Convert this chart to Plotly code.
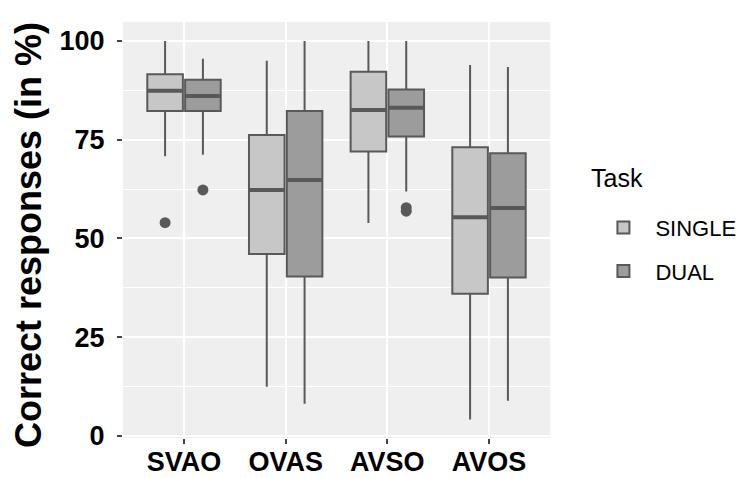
import plotly.graph_objects as go

categories = ["SVAO", "OVAS", "AVSO", "AVOS"]
groups = ["SINGLE", "DUAL"]

single_upper = [100.0, 95.0, 100.0, 93.9]
single_q3 = [91.6, 76.2, 92.2, 73.1]
single_median = [87.4, 62.3, 82.5, 55.4]
single_q1 = [82.3, 46.1, 72.0, 36.0]
single_lower = [70.8, 12.5, 53.9, 4.2]

dual_upper = [95.5, 100.0, 100.0, 93.4]
dual_q3 = [90.2, 82.3, 87.7, 71.6]
dual_median = [86.1, 64.8, 83.1, 57.7]
dual_q1 = [82.3, 40.4, 75.8, 40.1]
dual_lower = [71.2, 8.2, 61.9, 8.9]

# outliers: (category index, value)
single_outliers = [(0, 54.0)]
dual_outliers = [(0, 62.3), (2, 57.8), (2, 56.9)]

y_ticks = [0, 25, 50, 75, 100]

fills = {"SINGLE": "#C7C7C7", "DUAL": "#9C9C9C"}
edge = "#595959"
dodge = 0.186
bw = 0.35
FONT = "Liberation Sans, Arial, sans-serif"

stats = {
    "SINGLE": (single_q1, single_median, single_q3, single_lower, single_upper, single_outliers, -dodge),
    "DUAL": (dual_q1, dual_median, dual_q3, dual_lower, dual_upper, dual_outliers, dodge),
}

fig = go.Figure()
for g in groups:
    q1, med, q3, lo, hi, outs, off = stats[g]
    xs = [i + 1 + off for i in range(len(categories))]
    fig.add_trace(go.Box(
        x=xs, q1=q1, median=med, q3=q3, lowerfence=lo, upperfence=hi,
        width=bw, whiskerwidth=0, fillcolor=fills[g],
        line=dict(color=edge, width=2), name=g, boxpoints=False,
        legendgroup=g, hoverinfo="skip",
    ))
for g in groups:
    q1, med, q3, lo, hi, outs, off = stats[g]
    mx, my = [], []
    for i, m in enumerate(med):
        c = i + 1 + off
        mx += [c - bw / 2, c + bw / 2, None]
        my += [m, m, None]
    fig.add_trace(go.Scatter(x=mx, y=my, mode="lines",
                             line=dict(color=edge, width=4),
                             showlegend=False, hoverinfo="skip"))
    fig.add_trace(go.Scatter(
        x=[o[0] + 1 + off for o in outs], y=[o[1] for o in outs],
        mode="markers", marker=dict(color=edge, size=11),
        showlegend=False, hoverinfo="skip"))

fig.update_layout(
    width=743, height=478,
    margin=dict(l=123, r=193, t=22, b=40, autoexpand=False),
    paper_bgcolor="white", plot_bgcolor="#EFEFEF",
    font=dict(family=FONT, color="black"),
    boxmode="overlay",
    legend=dict(
        x=1.097, y=0.556, xanchor="left", yanchor="top",
        font=dict(size=22, color="black"),
        bgcolor="rgba(0,0,0,0)",
        traceorder="grouped",
        tracegroupgap=12,
        itemwidth=54,
    ),
    xaxis=dict(
        range=[0.4, 4.6], tickvals=[1, 2, 3, 4], ticktext=categories,
        showgrid=True, gridcolor="white", gridwidth=2,
        ticks="outside", ticklen=5, tickcolor="#444444", tickwidth=1.5,
        tickfont=dict(size=27, family=FONT, color="black", weight="bold"),
        ticklabelstandoff=-5,
        zeroline=False, showline=False, automargin=False,
    ),
    yaxis=dict(
        range=[-0.5, 104.8], tickvals=y_ticks,
        showgrid=True, gridcolor="white", gridwidth=2,
        minor=dict(tickvals=[12.5, 37.5, 62.5, 87.5], showgrid=True,
                   gridcolor="white", gridwidth=1, ticklen=0),
        ticks="outside", ticklen=5, tickcolor="#444444", tickwidth=1.5,
        tickfont=dict(size=27, family=FONT, color="black", weight="bold"),
        ticklabelstandoff=7,
        zeroline=False, showline=False, automargin=False,
    ),
    annotations=[
        dict(
            text="Correct responses (in %)", textangle=-90,
            x=-0.220, y=0.488, xref="paper", yref="paper",
            xanchor="center", yanchor="middle", showarrow=False,
            font=dict(size=36, family=FONT, color="black", weight="bold"),
        ),
        dict(
            text="Task", x=1.092, y=0.624, xref="paper", yref="paper",
            xanchor="left", yanchor="middle", showarrow=False,
            font=dict(size=25, family=FONT, color="black"),
        ),
    ],
)

fig.write_html("out.html")
